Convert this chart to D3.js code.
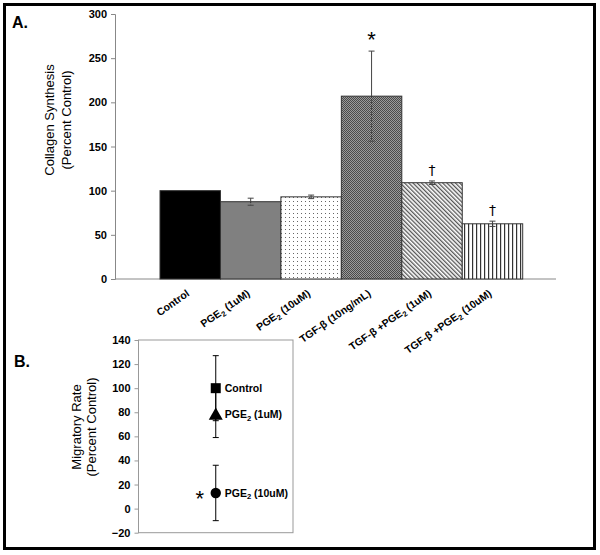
<!DOCTYPE html>
<html><head><meta charset="utf-8">
<script src="https://cdn.jsdelivr.net/npm/d3@7"></script>
<style>body{margin:0;background:#fff}svg{display:block;font-family:"Liberation Sans",Arial,sans-serif}</style>
</head><body><svg id="c" width="600" height="555"></svg>
<script>
// ---- Panel A data ----
const categories = ["Control","PGE2 (1uM)","PGE2 (10uM)","TGF-β (10ng/mL)","TGF-β +PGE2 (1uM)","TGF-β +PGE2 (10uM)"];
const collagen = [100, 87.5, 93, 207, 109, 62.5];
const collagenErr = [0, 4, 2, 51, 2, 3];
const collagenMarks = ["", "", "", "*", "†", "†"];
const yTicksA = [0,50,100,150,200,250,300];
// ---- Panel B data ----
const groupsB = ["Control","PGE2 (1uM)","PGE2 (10uM)"];
const migratory = [100, 78, 13];
const migratoryErr = [27, 19, 23];
const migratoryMarks = ["", "", "*"];
const yTicksB = [-20,0,20,40,60,80,100,120,140];

const svg = d3.select("#c");
const defs = svg.append("defs");
// patterns
const pDots = defs.append("pattern").attr("id","dots").attr("patternUnits","userSpaceOnUse").attr("width",4).attr("height",4);
pDots.append("rect").attr("width",4).attr("height",4).attr("fill","#fff");
pDots.append("rect").attr("x",1).attr("y",1).attr("width",1).attr("height",1).attr("fill","#666");
const pCheck = defs.append("pattern").attr("id","check").attr("patternUnits","userSpaceOnUse").attr("width",2).attr("height",2);
pCheck.append("rect").attr("width",2).attr("height",2).attr("fill","#9a9a9a");
pCheck.append("rect").attr("width",1).attr("height",1).attr("fill","#4a4a4a");
pCheck.append("rect").attr("x",1).attr("y",1).attr("width",1).attr("height",1).attr("fill","#4a4a4a");
const pDiag = defs.append("pattern").attr("id","diag").attr("patternUnits","userSpaceOnUse").attr("width",3).attr("height",3).attr("patternTransform","rotate(-45)");
pDiag.append("rect").attr("width",3).attr("height",3).attr("fill","#fff");
pDiag.append("rect").attr("width",1.3).attr("height",3).attr("fill","#555");
const pVert = defs.append("pattern").attr("id","vert").attr("patternUnits","userSpaceOnUse").attr("width",4).attr("height",4);
pVert.append("rect").attr("width",4).attr("height",4).attr("fill","#fff");
pVert.append("rect").attr("width",1.2).attr("height",4).attr("fill","#333");
const fills = ["#000","#808080","url(#dots)","url(#check)","url(#diag)","url(#vert)"];

// label with PGE2 subscript
function richText(sel, str, fs){
  const parts = str.split(/(PGE)2/).filter(p=>p!=="");
  let shift = 0;
  parts.forEach(p=>{
    const ts = sel.append("tspan").text(p);
    if(shift){ ts.attr("dy",-shift); shift = 0; }
    if(p==="PGE"){
      shift = fs*0.25;
      sel.append("tspan").text("2").attr("font-size",fs*0.72).attr("dy",shift);
    }
  });
}

// outer frame
svg.append("rect").attr("x",4.5).attr("y",4.5).attr("width",590).attr("height",544)
  .attr("fill","none").attr("stroke","#000").attr("stroke-width",3);

// ---- Panel A ----
const xA = d3.scaleBand().domain(categories).range([160,522.7]).padding(0);
const yA = d3.scaleLinear().domain([0,300]).range([279,14]);
const gA = svg.append("g");
gA.append("text").attr("x",12).attr("y",28).attr("font-size",16).attr("font-weight","bold").text("A.");
const axA = gA.append("g").attr("transform","translate(115,0)")
  .call(d3.axisLeft(yA).tickValues(yTicksA).tickSize(4).tickPadding(4));
axA.selectAll("path,line").attr("stroke","#888");
axA.selectAll("text").attr("font-size",11).attr("font-weight","bold").attr("fill","#000").attr("font-family","Liberation Sans, Arial");
gA.append("line").attr("x1",115).attr("x2",556).attr("y1",yA(0)).attr("y2",yA(0)).attr("stroke","#888");
gA.selectAll("rect.bar").data(categories).join("rect").attr("class","bar")
  .attr("x",d=>xA(d)).attr("width",xA.bandwidth())
  .attr("y",(d,i)=>yA(collagen[i])).attr("height",(d,i)=>yA(0)-yA(collagen[i]))
  .attr("fill",(d,i)=>fills[i]).attr("stroke","#333").attr("stroke-width",1);
// error bars
categories.forEach((c,i)=>{
  if(!collagenErr[i]) return;
  const cx = xA(c)+xA.bandwidth()/2;
  const top = yA(collagen[i]+collagenErr[i]), bot = yA(collagen[i]-collagenErr[i]), mid = yA(collagen[i]);
  gA.append("line").attr("x1",cx).attr("x2",cx).attr("y1",top).attr("y2",mid).attr("stroke","#444");
  gA.append("line").attr("x1",cx).attr("x2",cx).attr("y1",mid).attr("y2",bot).attr("stroke","#333").attr("stroke-dasharray","1.5,1.5");
  [top,bot].forEach(y=>gA.append("line").attr("x1",cx-3).attr("x2",cx+3).attr("y1",y).attr("y2",y).attr("stroke","#444"));
  if(collagenMarks[i]){
    const star = collagenMarks[i]==="*";
    gA.append("text").attr("x",cx).attr("y",top-(star?4:6)).attr("text-anchor","middle")
      .attr("font-family", star ? "Liberation Sans" : "DejaVu Sans")
      .attr("font-size",star?22:14).attr("fill","#000").text(collagenMarks[i]);
  }
});
categories.forEach((c,i)=>{
  const cx = xA(c)+xA.bandwidth()/2;
  const t = gA.append("text").attr("transform",`translate(${cx},${295}) rotate(-35)`)
    .attr("text-anchor","end").attr("font-size",10.5).attr("font-weight","bold");
  richText(t,c,10.5);
});
const ylA = gA.append("g").attr("transform","translate(54,120) rotate(-90)");
ylA.append("text").attr("text-anchor","middle").attr("y",0).attr("font-size",13).text("Collagen Synthesis");
ylA.append("text").attr("text-anchor","middle").attr("y",17).attr("font-size",13).text("(Percent Control)");

// ---- Panel B ----
const yB = d3.scaleLinear().domain([-20,140]).range([532.7,340]);
const xB = d3.scalePoint().domain(["l","c","r"]).range([138.5,293]);
const gB = svg.append("g");
gB.append("text").attr("x",14).attr("y",367).attr("font-size",16).attr("font-weight","bold").text("B.");
gB.append("rect").attr("x",138.5).attr("y",yB(140)).attr("width",293-138.5).attr("height",yB(-20)-yB(140))
  .attr("fill","none").attr("stroke","#999");
const axB = gB.append("g").attr("transform","translate(138.5,0)")
  .call(d3.axisLeft(yB).tickValues(yTicksB).tickSize(4).tickPadding(4));
axB.select("path").remove();
axB.selectAll("line").attr("stroke","#999");
axB.selectAll("text").attr("font-size",11).attr("font-weight","bold").attr("fill","#000").attr("font-family","Liberation Sans, Arial");
const ylB = gB.append("g").attr("transform","translate(81,427) rotate(-90)");
ylB.append("text").attr("text-anchor","middle").attr("y",0).attr("font-size",13).text("Migratory Rate");
ylB.append("text").attr("text-anchor","middle").attr("y",15).attr("font-size",13).text("(Percent Control)");
const cxB = xB("c");
const symbols = [d3.symbolSquare, d3.symbolTriangle, d3.symbolCircle];
const sizes = [100, 85, 85];
groupsB.forEach((g,i)=>{
  const top = yB(migratory[i]+migratoryErr[i]), bot = yB(migratory[i]-migratoryErr[i]);
  gB.append("line").attr("x1",cxB).attr("x2",cxB).attr("y1",top).attr("y2",bot).attr("stroke","#000");
  [top,bot].forEach(y=>gB.append("line").attr("x1",cxB-3).attr("x2",cxB+3).attr("y1",y).attr("y2",y).attr("stroke","#000"));
});
groupsB.forEach((g,i)=>{
  gB.append("path").attr("d",d3.symbol().type(symbols[i]).size(sizes[i])())
    .attr("transform",`translate(${cxB},${yB(migratory[i])+(i===1?1:0)})`).attr("fill","#000");
  const t = gB.append("text").attr("x",cxB+9).attr("y",yB(migratory[i])).attr("dy","0.35em")
    .attr("font-size",10.5).attr("font-weight","bold");
  richText(t,g,10.5);
  if(migratoryMarks[i]){
    gB.append("text").attr("x",cxB-16).attr("y",yB(migratory[i])).attr("dy","0.6em").attr("text-anchor","middle")
      .attr("font-size",22).text(migratoryMarks[i]);
  }
});
</script></body></html>
